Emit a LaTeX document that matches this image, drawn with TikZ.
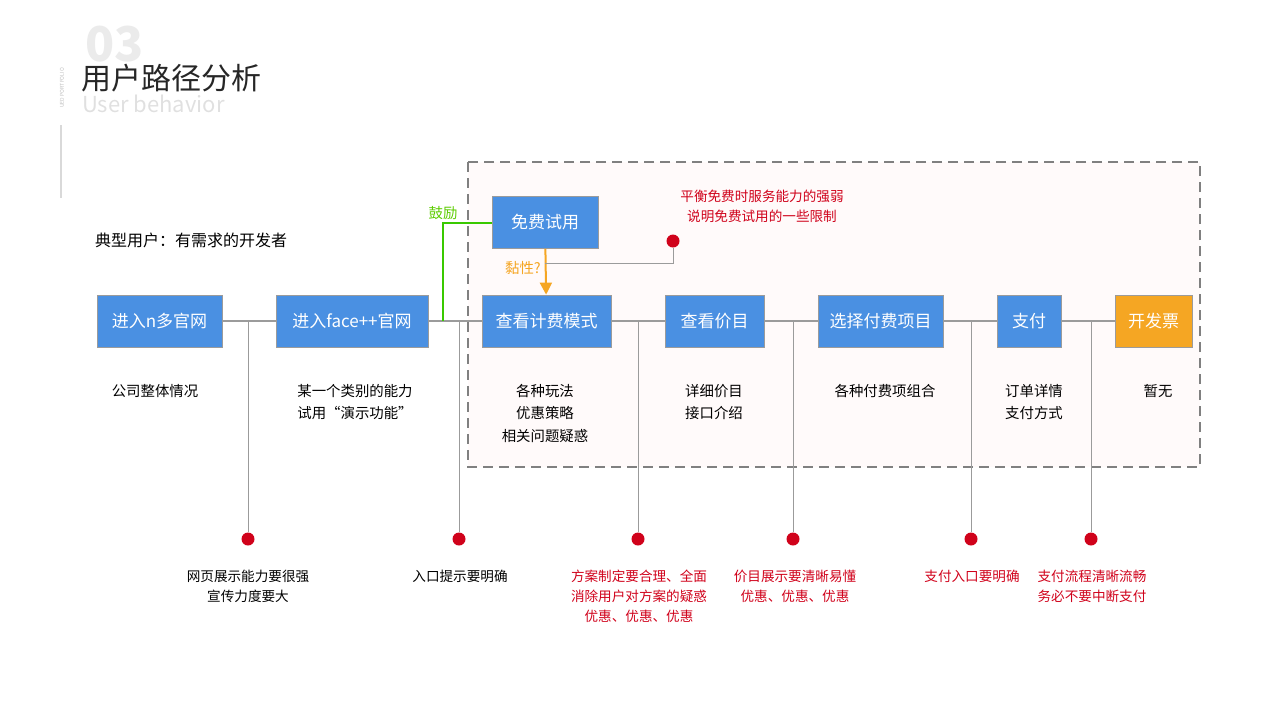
\documentclass[tikz,border=0pt]{standalone}
\usepackage{fontspec}
\setmainfont{Noto Sans CJK SC}
\usetikzlibrary{positioning,arrows.meta}
\definecolor{stepblue}{HTML}{4A90E2}
\definecolor{steporange}{HTML}{F5A623}
\definecolor{noteRed}{HTML}{D0021B}
\definecolor{linegray}{HTML}{9B9B9B}
\tikzset{
  stage/.style={draw=linegray,fill=stepblue,text=white,minimum height=26pt,inner sep=0pt,font=\fontsize{8.5}{10}\selectfont},
  desc/.style={align=center,font=\fontsize{7.2}{11.3}\selectfont},
  note/.style={align=center,text=noteRed,font=\fontsize{6.8}{10}\selectfont},
  pin/.style={circle,fill=noteRed,inner sep=0pt,minimum size=6.5pt},
  drop/.style={linegray,line width=0.5pt},
}
\begin{document}
\begin{tikzpicture}[x=0.5pt,y=-0.5pt]
\useasboundingbox (0,0) rectangle (1280,720);
% header
\node[anchor=west,text=black!8,font=\fontsize{24}{24}\selectfont\bfseries] at (78,44) {03};
\node[anchor=west,text=black!85,font=\fontsize{15}{15}\selectfont] (title) at (74,78) {用户路径分析};
\node[anchor=west,text=black!12,font=\fontsize{11}{11}\selectfont] at (75,104) {User behavior};
\node[rotate=90,text=black!25,font=\fontsize{2.6}{3}\selectfont] at (62,88) {UED PORTFOLIO};
\draw[black!15,line width=0.6pt] (61,125) -- (61,198);
\node[anchor=west,font=\fontsize{8}{10}\selectfont] at (88,240) {典型用户：有需求的开发者};
% frame
\draw[dashed,dash pattern=on 5pt off 3pt,draw=gray,line width=1pt,fill=red!2] (468,162) rectangle (1200,467);
% steps
\node[stage,minimum width=62.5pt] (nweb) at (159.5,321) {进入n多官网};
\node[stage,minimum width=76pt] (face) at (352,321) {进入face++官网};
\node[stage,minimum width=64.5pt] (price) at (546.5,321) {查看计费模式};
\node[stage,minimum width=49.5pt] (list) at (714.5,321) {查看价目};
\node[stage,minimum width=62.5pt] (item) at (880.5,321) {选择付费项目};
\node[stage,minimum width=32pt] (pay) at (1029,321) {支付};
\node[stage,minimum width=38.5pt,fill=steporange] (bill) at (1153.5,321) {开发票};
\node[stage,minimum width=53pt] (trial) at (545,222.5) {免费试用};
% main line
\foreach \a/\b in {nweb/face,face/price,price/list,list/item,item/pay,pay/bill}
  \draw[linegray,line width=1pt] (\a) -- (\b);
% drops
\foreach \x/\n in {248/p1,459/p2,638/p3,793/p4,971/p5,1091/p6}{
  \node[pin] (\n) at (\x,539) {};
  \draw[drop] (\x,321) -- (\n);
}
% trial links
\coordinate (g) at (443,321);
\draw[green!70!black!70!lime,line width=1pt] (trial.west) -| (g);
\node[text=lime!60!green!80!black,font=\fontsize{7.2}{9}\selectfont] at (443,213) {鼓励};
\draw[steporange,line width=1pt,-{Triangle[width=6pt,length=6pt]}] (trial) -- (price);
\node[text=steporange,font=\fontsize{7.2}{9}\selectfont] at (523,268) {黏性?};
\node[pin] (tp) at (673,241) {};
\draw[drop] (545,263) -| (tp);
\node[note] at (762,206) {平衡免费时服务能力的强弱\\说明免费试用的一些限制};
% descriptions
\node[desc,anchor=north] at (155,377) {公司整体情况};
\node[desc,anchor=north] at (355,377) {某一个类别的能力\\试用“演示功能”};
\node[desc,anchor=north] at (545,377) {各种玩法\\优惠策略\\相关问题疑惑};
\node[desc,anchor=north] at (714,377) {详细价目\\接口介绍};
\node[desc,anchor=north] at (885,377) {各种付费项组合};
\node[desc,anchor=north] at (1034,377) {订单详情\\支付方式};
\node[desc,anchor=north] at (1158,377) {暂无};
% notes
\node[desc,anchor=north,font=\fontsize{6.8}{10}\selectfont] at (248,563) {网页展示能力要很强\\宣传力度要大};
\node[desc,anchor=north,font=\fontsize{6.8}{10}\selectfont] at (460,563) {入口提示要明确};
\node[note,anchor=north] at (639,563) {方案制定要合理、全面\\消除用户对方案的疑惑\\优惠、优惠、优惠};
\node[note,anchor=north] at (795,563) {价目展示要清晰易懂\\优惠、优惠、优惠};
\node[note,anchor=north] at (972,563) {支付入口要明确};
\node[note,anchor=north] at (1092,563) {支付流程清晰流畅\\务必不要中断支付};
\end{tikzpicture}
\end{document}
